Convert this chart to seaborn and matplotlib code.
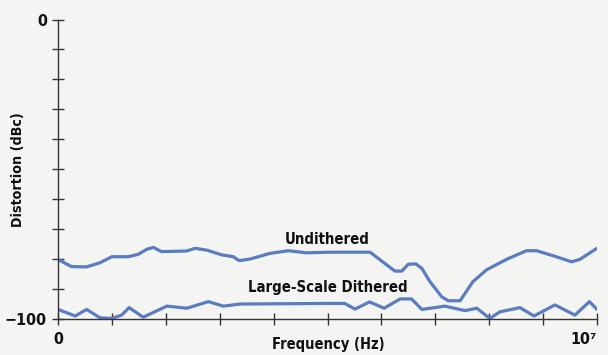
import numpy as np
import pandas as pd
import matplotlib
matplotlib.use("Agg")
import matplotlib.pyplot as plt
import seaborn as sns

# Frequency in units of 1 MHz (axis runs 0 .. 10^7 Hz)
undithered_freq = [0.0, 0.25, 0.53, 0.78, 1.0, 1.3, 1.49, 1.65, 1.77, 1.92, 2.39, 2.54,
                   2.76, 3.04, 3.25, 3.36, 3.56, 3.93, 4.27, 4.61, 5.05, 5.79, 6.25,
                   6.38, 6.50, 6.64, 6.75, 6.90, 7.12, 7.24, 7.46, 7.70, 7.95, 8.32,
                   8.69, 8.88, 9.19, 9.53, 9.68, 10.0]
undithered_db = [-80.1, -82.5, -82.6, -81.2, -79.2, -79.2, -78.4, -76.7, -76.1, -77.5,
                 -77.3, -76.4, -77.0, -78.6, -79.2, -80.5, -80.0, -78.1, -77.2, -77.9,
                 -77.7, -77.7, -84.0, -84.0, -81.7, -81.6, -83.1, -87.5, -92.6, -93.9,
                 -93.9, -87.5, -83.6, -80.1, -77.2, -77.2, -78.9, -80.9, -80.1, -76.4]

dithered_freq = [0.0, 0.32, 0.53, 0.78, 1.0, 1.18, 1.32, 1.58, 2.02, 2.39, 2.79, 3.07,
                 3.38, 5.05, 5.32, 5.51, 5.78, 6.05, 6.35, 6.56, 6.75, 7.18, 7.55,
                 7.77, 8.01, 8.20, 8.57, 8.83, 9.22, 9.59, 9.86, 10.0]
dithered_db = [-96.8, -99.0, -96.8, -99.6, -99.8, -98.7, -96.2, -99.4, -95.7, -96.4,
               -94.2, -95.7, -95.0, -94.8, -94.8, -96.7, -94.3, -96.4, -93.3, -93.3,
               -96.8, -95.7, -97.2, -96.4, -99.8, -97.6, -96.2, -99.0, -95.3, -98.7,
               -94.2, -96.8]

series_labels = ["Undithered", "Large-Scale Dithered"]
x_tick_labels = ["0", "10\u2077"]
y_tick_labels = ["\u2212100", "0"]

df = pd.concat([
    pd.DataFrame({"freq": undithered_freq, "dist": undithered_db, "series": series_labels[0]}),
    pd.DataFrame({"freq": dithered_freq, "dist": dithered_db, "series": series_labels[1]}),
])

sns.set_style("ticks")
plt.rcParams["font.family"] = ["DejaVu Sans"]


def txt(size):
    return dict(family="DejaVu Sans", stretch="condensed", weight="bold", size=size,
                color="#111111")


bg = "#f4f4f2"
line_color = "#5a7cc1"
axis_color = "#333333"

fig = plt.figure(figsize=(6.08, 3.55), dpi=100, facecolor=bg)
ax = fig.add_axes([58 / 608, 1 - 319 / 355, (597 - 58) / 608, (319 - 19.5) / 355])
ax.set_facecolor(bg)

sns.lineplot(data=df, x="freq", y="dist", hue="series", units="series", estimator=None,
             sort=False, palette=[line_color, line_color], linewidth=2.3, legend=False, ax=ax)

ax.set_xlim(0, 10)
ax.set_ylim(-100, 0)
for side in ("top", "right"):
    ax.spines[side].set_visible(False)
for side in ("left", "bottom"):
    ax.spines[side].set_color(axis_color)
    ax.spines[side].set_linewidth(1.0)

ax.set_xticks(np.arange(0, 11, 1))
ax.set_yticks(np.arange(-100, 1, 10))
ax.set_xticklabels([x_tick_labels[0]] + [""] * 9 + [x_tick_labels[1]])
ax.set_yticklabels([y_tick_labels[0]] + [""] * 9 + [y_tick_labels[1]])
ax.tick_params(axis="both", direction="inout", length=8, width=1.0, color=axis_color)
ax.tick_params(axis="y", pad=4)
ax.tick_params(axis="x", pad=5)
for lab in ax.get_xticklabels() + ax.get_yticklabels():
    lab.set(**txt(11.5))
# keep the right-hand "10^7" label inside the canvas
ax.get_xticklabels()[-1].set_horizontalalignment("right")
ax.get_xticklabels()[-1].set_x(10.0)

ax.set_xlabel("")
ax.set_ylabel("")
fig.text(328 / 608, 1 - 345 / 355, "Frequency (Hz)", ha="center", va="center", **txt(10.5))
fig.text(18.5 / 608, 1 - 170 / 355, "Distortion (dBc)", ha="center", va="center",
         rotation=90, **txt(10.3))

ax.text(5.0, -73.3, series_labels[0], ha="center", va="center", **txt(10.7))
ax.text(5.0, -89.6, series_labels[1], ha="center", va="center", **txt(10.7))

fig.savefig("out.png", dpi=100, facecolor=bg)
